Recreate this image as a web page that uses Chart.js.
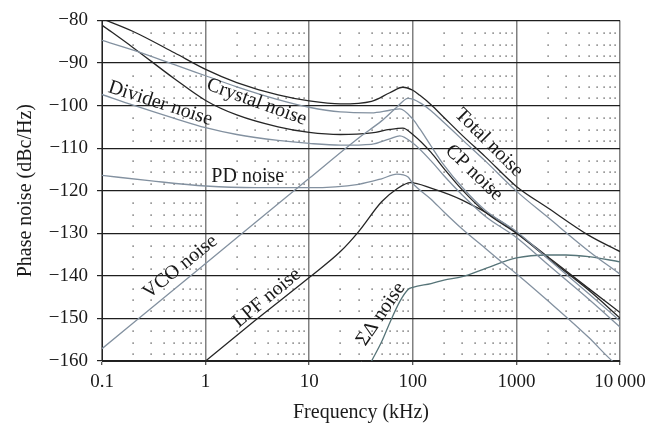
<!DOCTYPE html>
<html>
<head>
<meta charset="utf-8">
<script src="https://cdn.jsdelivr.net/npm/chart.js@4.4.1/dist/chart.umd.min.js"></script>
<style>
  html, body { margin: 0; padding: 0; background: #ffffff; }
  #wrap { width: 669px; height: 431px; position: relative; }
</style>
</head>
<body>
<div id="wrap"><canvas id="c" width="669" height="431"></canvas></div>
<script>
// ---------- data ----------
const xTickValues = [0.1, 1, 10, 100, 1000, 10000];
const xTickLabels = ['0.1', '1', '10', '100', '1000', '10\u2009000'];
const yTickValues = [-160, -150, -140, -130, -120, -110, -100, -90, -80];

const totalFreq = [0.1, 0.2, 0.5, 1, 2, 5, 10, 20, 40, 60, 80, 100, 117, 150, 200, 300, 500, 1000, 2000, 5000, 10000];
const totalDb   = [-79.6, -82.6, -87.6, -91.5, -94.6, -97.5, -98.9, -99.6, -99.0, -97.0, -95.7, -96.4, -97.6, -99.8, -102.8, -107, -112, -119, -124, -130.5, -134.3];

const crystalFreq = [0.1, 0.2, 0.5, 1, 2, 5, 10, 20, 40, 60, 80, 100, 150, 200, 300, 500, 1000, 2000, 5000, 10000];
const crystalDb   = [-81.1, -86.4, -93.7, -98.8, -102.2, -105, -106.3, -106.8, -106.4, -105.6, -105.3, -106.8, -111, -114.8, -119.8, -125, -130, -135.8, -143.4, -149.9];

const cpFreq = [0.1, 0.2, 0.5, 1, 2, 5, 10, 20, 40, 60, 75, 100, 117, 150, 200, 300, 500, 1000, 2000, 5000, 10000];
const cpDb   = [-84.7, -87.0, -90.4, -93.0, -95.6, -98.6, -100.4, -101.5, -101.7, -101.1, -100.8, -103.2, -105.5, -109.5, -114, -119.2, -124.6, -129.6, -135.9, -144.2, -150.6];

const dividerFreq = [0.1, 0.2, 0.5, 1, 2, 5, 10, 20, 40, 60, 75, 100, 150, 200, 300, 500, 1000, 2000, 5000, 10000];
const dividerDb   = [-97.4, -99.9, -103.0, -105.2, -106.8, -108.2, -108.9, -109.3, -109.1, -107.8, -107.1, -108.8, -113, -116.5, -121, -126, -131, -137.3, -145.5, -152];

const pdFreq = [0.1, 0.3, 1, 3, 10, 30, 50, 70, 90, 100, 150, 200, 300, 500, 700, 1000, 2000, 5000, 8000, 10000];
const pdDb   = [-116.4, -117.7, -118.9, -119.3, -119.3, -118.5, -117.2, -116.1, -116.8, -118.3, -122, -125, -129, -133.5, -136.5, -139.5, -145.8, -154.5, -159.5, -161.5];

const vcoFreq = [0.1, 1, 10, 30, 50, 70, 90, 100, 120, 150, 200, 300, 500, 1000, 2000, 5000, 10000];
const vcoDb   = [-157.1, -137.1, -117.1, -107.6, -103.6, -100.4, -98.3, -98.5, -99.5, -101.2, -104, -108, -113, -120.1, -126.2, -134.2, -139.6];

const lpfFreq = [1, 3, 10, 20, 30, 50, 70, 95, 150, 300, 700, 1000, 2000, 5000, 10000];
const lpfDb   = [-160, -150.5, -140.4, -134.3, -129.6, -122.6, -119.6, -118.1, -119.4, -122.2, -127.1, -129.8, -135.5, -143, -148.6];

const sdFreq = [40, 50, 60, 75, 90, 100, 150, 200, 300, 500, 1000, 2000, 3000, 5000, 10000];
const sdDb   = [-160, -155.5, -151, -146, -143.2, -142.7, -141.8, -141, -140.2, -138.3, -135.8, -135.1, -135.1, -135.5, -136.7];

// curve labels: text, anchor (frequency, dB), rotation in degrees
const labelTexts  = ['Divider noise', 'Crystal noise', 'PD noise', 'Total noise', 'CP noise', 'VCO noise', 'LPF noise', '\u03A3\u0394 noise'];
const labelFreq   = [0.365, 3.1, 2.55, 543, 390, 0.569, 3.9, 49.3];
const labelDb     = [-99.5, -99.2, -116.7, -108.7, -115.8, -137.9, -145.2, -149];
const labelAngle  = [18, 20, 0, 45, 44, -39, -39.5, -56];

// ---------- styling ----------
const BLACK = '#262626';
const GREY  = '#8391a0';
const TEAL  = '#567478';
const FONT  = "'Liberation Serif', 'DejaVu Serif', serif";

function pts(fs, ds) { return fs.map((f, i) => ({ x: f, y: ds[i] })); }
function ds(label, fs, dbs, color) {
  return { label, data: pts(fs, dbs), borderColor: color, borderWidth: 1.3,
           pointRadius: 0, fill: false, cubicInterpolationMode: 'monotone' };
}

const minorDots = {
  id: 'minorDots',
  beforeDatasetsDraw(chart) {
    const { ctx, scales: { x, y } } = chart;
    ctx.save();
    ctx.fillStyle = '#333';
    for (let d = 0.1; d < 10000; d *= 10) {
      for (let m = 2; m <= 9; m++) {
        const px = Math.round(x.getPixelForValue(d * m));
        for (let v = -80; v > -160; v -= 10) {
          for (const off of [3, 5.67, 8.33]) {
            const py = Math.round(y.getPixelForValue(v - off));
            ctx.fillRect(px - 0.5, py - 0.5, 1.2, 1.2);
          }
        }
      }
    }
    ctx.restore();
  }
};

const curveLabels = {
  id: 'curveLabels',
  afterDatasetsDraw(chart) {
    const { ctx, scales: { x, y } } = chart;
    ctx.save();
    ctx.fillStyle = '#1a1a1a';
    ctx.font = "20px " + FONT;
    ctx.textAlign = 'center';
    ctx.textBaseline = 'middle';
    labelTexts.forEach((t, i) => {
      const px = x.getPixelForValue(labelFreq[i]);
      const py = y.getPixelForValue(labelDb[i]);
      ctx.save();
      ctx.translate(px, py);
      ctx.rotate(labelAngle[i] * Math.PI / 180);
      ctx.fillText(t, 0, 0);
      ctx.restore();
    });
    ctx.restore();
  }
};

new Chart(document.getElementById('c'), {
  type: 'line',
  data: {
    datasets: [
      ds('VCO noise', vcoFreq, vcoDb, GREY),
      ds('PD noise', pdFreq, pdDb, GREY),
      ds('Divider noise', dividerFreq, dividerDb, GREY),
      ds('CP noise', cpFreq, cpDb, GREY),
      ds('\u03A3\u0394 noise', sdFreq, sdDb, TEAL),
      ds('LPF noise', lpfFreq, lpfDb, BLACK),
      ds('Crystal noise', crystalFreq, crystalDb, BLACK),
      ds('Total noise', totalFreq, totalDb, BLACK)
    ]
  },
  options: {
    responsive: false,
    animation: false,
    devicePixelRatio: 1,
    layout: { padding: { left: 0, right: 49, top: 10, bottom: 0 } },
    plugins: { legend: { display: false }, tooltip: { enabled: false } },
    scales: {
      x: {
        type: 'logarithmic',
        min: 0.1, max: 10000,
        afterBuildTicks(scale) { scale.ticks = xTickValues.map(v => ({ value: v, major: true })); },
        afterFit(scale) { scale.height = 70; },
        ticks: {
          autoSkip: false, maxRotation: 0,
          color: '#1a1a1a', padding: 6,
          font: { family: FONT, size: 19 },
          callback(v, i) { return xTickLabels[i]; }
        },
        grid: { color: '#808080', lineWidth: 1.5, tickLength: 4, tickColor: '#222', tickWidth: 1 },
        border: { color: '#222', width: 1 },
        title: { display: true, text: 'Frequency (kHz)', color: '#1a1a1a',
                 font: { family: FONT, size: 20 }, padding: { bottom: 6, top: 0 } }
      },
      y: {
        type: 'linear',
        min: -160, max: -80,
        afterBuildTicks(scale) { scale.ticks = yTickValues.map(v => ({ value: v })); },
        afterFit(scale) { scale.width = 102; },
        ticks: {
          color: '#1a1a1a', padding: 9,
          font: { family: FONT, size: 19 },
          callback(v) { return v < 0 ? '\u2212' + Math.abs(v) : String(v); }
        },
        grid: { color: '#1e1e1e', lineWidth: 1.2, tickLength: 5, tickColor: '#222' },
        border: { color: '#222', width: 1 },
        title: { display: true, text: 'Phase noise (dBc/Hz)', color: '#1a1a1a',
                 font: { family: FONT, size: 20 }, padding: { top: 14, bottom: 0 } }
      }
    }
  },
  plugins: [minorDots, curveLabels]
});
</script>
</body>
</html>
